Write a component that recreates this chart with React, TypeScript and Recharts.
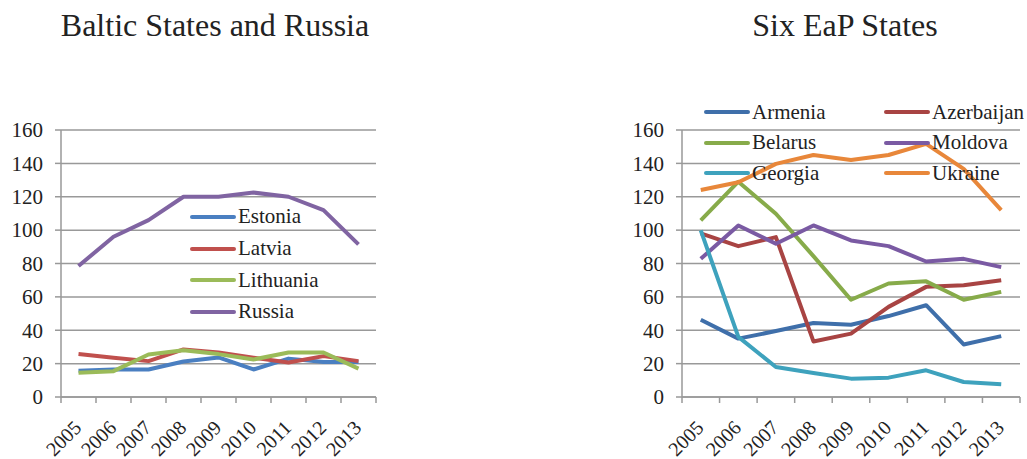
import { LineChart, Line, XAxis, YAxis, CartesianGrid, Legend } from 'recharts';

const years = ['2005', '2006', '2007', '2008', '2009', '2010', '2011', '2012', '2013'];
const yTicks = [0, 20, 40, 60, 80, 100, 120, 140, 160];

// Baltic States and Russia
const estonia = [15.7, 16.5, 16.5, 21.3, 23.7, 16.5, 23, 21, 21];
const latvia = [25.7, 23.5, 21.5, 28.5, 26.7, 23.5, 20.7, 24.5, 21.5];
const lithuania = [14.5, 15.5, 25.5, 28, 25.7, 22.5, 26.7, 26.7, 17];
const russia = [78.5, 96, 106, 120, 120, 122.5, 120, 112, 91.5];

// Six EaP States
const armenia = [46.3, 35, 39.5, 44.3, 43.3, 48.5, 55, 31.5, 36.5];
const azerbaijan = [98, 90.4, 95.8, 33.3, 38, 54, 66, 67, 70];
const belarus = [105.8, 129, 109.8, 84.4, 58.3, 68, 69.3, 58.3, 63];
const moldova = [82.8, 102.8, 91.8, 102.8, 93.8, 90.4, 81.2, 82.8, 77.8];
const georgia = [99.8, 36, 18, 14.4, 11, 11.6, 16, 9, 7.6];
const ukraine = [124, 128.7, 139.7, 145, 142, 145, 151.7, 136.7, 112];

// legend reading order (row by row)
const balticOrder = ['Estonia', 'Latvia', 'Lithuania', 'Russia'];
const eapOrder = ['Armenia', 'Azerbaijan', 'Belarus', 'Moldova', 'Georgia', 'Ukraine'];

const balticData = years.map((year, i) => ({
  year,
  Estonia: estonia[i],
  Latvia: latvia[i],
  Lithuania: lithuania[i],
  Russia: russia[i],
}));

const eapData = years.map((year, i) => ({
  year,
  Armenia: armenia[i],
  Azerbaijan: azerbaijan[i],
  Belarus: belarus[i],
  Moldova: moldova[i],
  Georgia: georgia[i],
  Ukraine: ukraine[i],
}));

const serif = "'Liberation Serif', 'Times New Roman', Times, serif";
const gridColor = '#999';
const textColor = '#222';

const YearTick = (props: any) => {
  const { x, y, payload, index, step, count } = props;
  const axisY = y - 6;
  return (
    <g>
      <line x1={x - step / 2} y1={axisY} x2={x - step / 2} y2={axisY + 6} stroke={gridColor} strokeWidth={1.5} />
      {index === count - 1 && (
        <line x1={x + step / 2} y1={axisY} x2={x + step / 2} y2={axisY + 6} stroke={gridColor} strokeWidth={1.5} />
      )}
      <text
        x={x + 4}
        y={axisY + 32}
        transform={`rotate(-45, ${x + 4}, ${axisY + 32})`}
        textAnchor="end"
        fill={textColor}
        style={{ fontFamily: serif, fontSize: 20 }}
      >
        {payload.value}
      </text>
    </g>
  );
};

const YValueTick = (props: any) => {
  const { x, y, payload } = props;
  return (
    <text x={x} y={y} dy="0.35em" textAnchor="end" fill={textColor} style={{ fontFamily: serif, fontSize: 21 }}>
      {payload.value}
    </text>
  );
};

const LegendRows = ({ payload, order, columns, colWidth, rowHeight }: any) => {
  const items = [...(payload || [])].sort((a: any, b: any) => order.indexOf(a.value) - order.indexOf(b.value));
  return (
    <div
      style={{
        display: 'grid',
        gridTemplateColumns: `repeat(${columns}, ${colWidth}px)`,
        fontFamily: serif,
        fontSize: 21,
        color: textColor,
      }}
    >
      {items.map((entry: any) => (
        <div key={entry.value} style={{ display: 'flex', alignItems: 'center', height: rowHeight, whiteSpace: 'nowrap' }}>
          <span style={{ display: 'inline-block', width: 46, height: 4, borderRadius: 2, background: entry.color, marginRight: 2 }} />
          <span>{entry.value}</span>
        </div>
      ))}
    </div>
  );
};

const Title = ({ text, center }: { text: string; center: number }) => (
  <div
    style={{
      position: 'absolute',
      left: center - 200,
      width: 400,
      top: 9,
      textAlign: 'center',
      fontFamily: serif,
      fontSize: 32,
      lineHeight: '32px',
      color: textColor,
    }}
  >
    {text}
  </div>
);

const axisProps = {
  stroke: gridColor,
  strokeWidth: 1.5,
};

const App = () => {
  const leftStep = 315 / 9;
  const rightStep = 338 / 9;
  return (
    <div
      style={{
        position: 'absolute',
        left: 0,
        top: 0,
        width: 1027,
        height: 459,
        background: '#fff',
        overflow: 'hidden',
        fontFamily: serif,
      }}
    >
      <Title text="Baltic States and Russia" center={215} />
      <Title text="Six EaP States" center={845} />

      <div style={{ position: 'absolute', left: 0, top: 0 }}>
        <LineChart width={400} height={459} data={balticData} margin={{ top: 130, right: 24, bottom: 0, left: 0 }}>
          <CartesianGrid vertical={false} stroke={gridColor} strokeWidth={1.5} />
          <XAxis
            dataKey="year"
            height={62}
            padding={{ left: leftStep / 2, right: leftStep / 2 }}
            interval={0}
            tickSize={6}
            tickMargin={0}
            tickLine={false}
            axisLine={axisProps}
            tick={(p: any) => <YearTick {...p} step={leftStep} count={years.length} />}
          />
          <YAxis
            width={61}
            domain={[0, 160]}
            ticks={yTicks}
            interval={0}
            tickSize={6}
            tickMargin={12}
            axisLine={axisProps}
            tickLine={axisProps}
            tick={(p: any) => <YValueTick {...p} />}
          />
          <Legend
            layout="vertical"
            align="center"
            verticalAlign="middle"
            wrapperStyle={{ left: 190, top: 201, width: 180 }}
            content={(p: any) => (
              <LegendRows payload={p.payload} order={balticOrder} columns={1} colWidth={180} rowHeight={31.7} />
            )}
          />
          <Line dataKey="Estonia" stroke="#4a7fc1" strokeWidth={4} dot={false} isAnimationActive={false} strokeLinejoin="round" />
          <Line dataKey="Latvia" stroke="#c0504d" strokeWidth={4} dot={false} isAnimationActive={false} strokeLinejoin="round" />
          <Line dataKey="Lithuania" stroke="#9bbb59" strokeWidth={4} dot={false} isAnimationActive={false} strokeLinejoin="round" />
          <Line dataKey="Russia" stroke="#8064a2" strokeWidth={4} dot={false} isAnimationActive={false} strokeLinejoin="round" />
        </LineChart>
      </div>

      <div style={{ position: 'absolute', left: 620, top: 0 }}>
        <LineChart width={407} height={459} data={eapData} margin={{ top: 130, right: 7, bottom: 0, left: 0 }}>
          <CartesianGrid vertical={false} stroke={gridColor} strokeWidth={1.5} />
          <XAxis
            dataKey="year"
            height={62}
            padding={{ left: rightStep / 2, right: rightStep / 2 }}
            interval={0}
            tickSize={6}
            tickMargin={0}
            tickLine={false}
            axisLine={axisProps}
            tick={(p: any) => <YearTick {...p} step={rightStep} count={years.length} />}
          />
          <YAxis
            width={62}
            domain={[0, 160]}
            ticks={yTicks}
            interval={0}
            tickSize={6}
            tickMargin={12}
            axisLine={axisProps}
            tickLine={axisProps}
            tick={(p: any) => <YValueTick {...p} />}
          />
          <Line dataKey="Armenia" stroke="#3f6faa" strokeWidth={4} dot={false} isAnimationActive={false} strokeLinejoin="round" />
          <Line dataKey="Azerbaijan" stroke="#a84443" strokeWidth={4} dot={false} isAnimationActive={false} strokeLinejoin="round" />
          <Line dataKey="Belarus" stroke="#87ab4a" strokeWidth={4} dot={false} isAnimationActive={false} strokeLinejoin="round" />
          <Line dataKey="Moldova" stroke="#7a5aa3" strokeWidth={4} dot={false} isAnimationActive={false} strokeLinejoin="round" />
          <Line dataKey="Georgia" stroke="#3ea2bd" strokeWidth={4} dot={false} isAnimationActive={false} strokeLinejoin="round" />
          <Line dataKey="Ukraine" stroke="#e8873a" strokeWidth={4} dot={false} isAnimationActive={false} strokeLinejoin="round" />
          <Legend
            layout="vertical"
            align="center"
            verticalAlign="middle"
            wrapperStyle={{ left: 84, top: 97, width: 330 }}
            content={(p: any) => (
              <LegendRows payload={p.payload} order={eapOrder} columns={2} colWidth={180} rowHeight={30.5} />
            )}
          />
        </LineChart>
      </div>
    </div>
  );
};

export default App;
